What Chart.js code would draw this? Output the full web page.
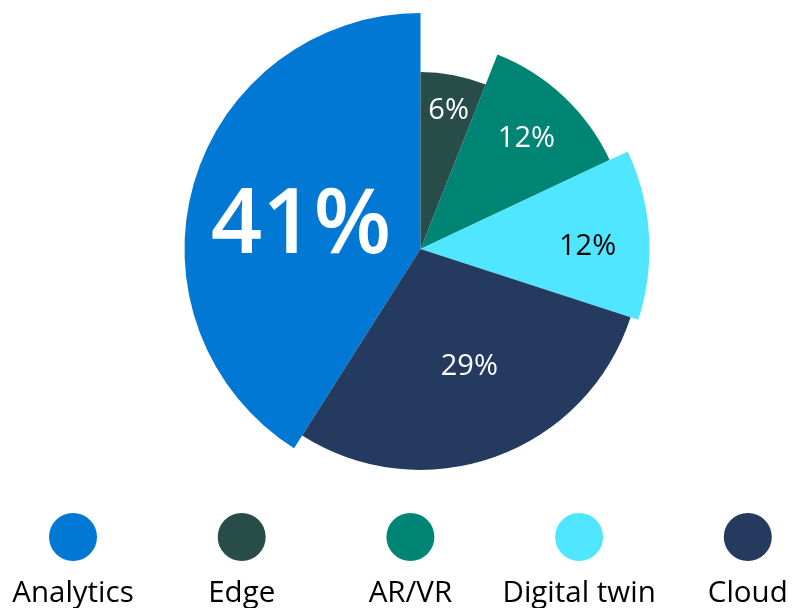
<!DOCTYPE html>
<html>
<head>
<meta charset="utf-8">
<style>
  html, body { margin: 0; padding: 0; background: #fff; }
  #wrap { width: 802px; height: 608px; position: relative; }
</style>
<script src="https://cdn.jsdelivr.net/npm/chart.js@4/dist/chart.umd.min.js"></script>
</head>
<body>
<div id="wrap"><canvas id="pieChart" width="802" height="608"></canvas></div>
<script>
// --- Data ---
const categories = ["Analytics", "Edge", "AR/VR", "Digital twin", "Cloud"];
const shares = [41, 6, 12, 12, 29];
const valueLabels = ["41%", "6%", "12%", "12%", "29%"];

// --- Style ---
const sliceColors = ["#0078d4", "#284c48", "#008575", "#50e6ff", "#243a5e"];
const labelColors = ["#ffffff", "#ffffff", "#ffffff", "#000000", "#ffffff"];
const labelSizes = [90, 29, 29, 29, 29];
const labelWeights = ["600", "400", "400", "400", "400"];
const radiusScale = [1.0, 0.75, 0.886, 0.97, 0.936]; // outer radius of each slice vs. the largest
const labelRadius = [0.52, 0.81, 0.74, 0.73, 0.57];  // label distance as fraction of slice radius
const labelTurn = [-3, 0.5, 0, 2, -3];               // small nudge of label angle, degrees

// stretch each slice to its own radius after chart.js lays out the arcs
const sliceRadiusPlugin = {
    id: "sliceRadius",
    afterDatasetUpdate(chart, args) {
        const full = Math.max(...args.meta.data.map(a => a.outerRadius));
        args.meta.data.forEach((arc, i) => {
            arc.outerRadius = full * radiusScale[i];
        });
    }
};

const sliceLabelPlugin = {
    id: "sliceLabels",
    afterDatasetsDraw(chart) {
        const ctx = chart.ctx;
        const meta = chart.getDatasetMeta(0);
        ctx.save();
        ctx.textAlign = "center";
        ctx.textBaseline = "alphabetic";
        meta.data.forEach((arc, i) => {
            const mid = (arc.startAngle + arc.endAngle) / 2 + labelTurn[i] * Math.PI / 180;
            const r = arc.outerRadius * labelRadius[i];
            ctx.font = labelWeights[i] + " " + labelSizes[i] + "px 'Open Sans'";
            ctx.fillStyle = labelColors[i];
            // centre the cap height on the label point
            const cap = labelSizes[i] * 0.714;
            ctx.fillText(valueLabels[i], arc.x + Math.cos(mid) * r, arc.y + Math.sin(mid) * r + cap / 2);
        });
        ctx.restore();
    }
};

const bottomLegendPlugin = {
    id: "bottomLegend",
    afterDraw(chart) {
        const ctx = chart.ctx;
        const step = 168.7;
        const x0 = 73;
        ctx.save();
        categories.forEach((name, i) => {
            const cx = x0 + step * i;
            ctx.beginPath();
            ctx.arc(cx, 537, 24, 0, Math.PI * 2);
            ctx.fillStyle = sliceColors[i];
            ctx.fill();
            ctx.font = "29.5px 'Open Sans'";
            ctx.fillStyle = "#000";
            ctx.textAlign = "center";
            ctx.textBaseline = "alphabetic";
            ctx.fillText(name, cx, 602);
        });
        ctx.restore();
    }
};

new Chart(document.getElementById("pieChart"), {
    type: "pie",
    data: {
        labels: categories,
        datasets: [{
            data: shares,
            backgroundColor: sliceColors,
            borderWidth: 0,
            hoverOffset: 0
        }]
    },
    options: {
        responsive: false,
        animation: false,
        rotation: -shares[0] * 3.6,
        layout: { padding: { left: 184.5, top: 13, right: 145.5, bottom: 123 } },
        plugins: {
            legend: { display: false },
            tooltip: { enabled: false }
        },
        events: []
    },
    plugins: [sliceRadiusPlugin, sliceLabelPlugin, bottomLegendPlugin]
});
</script>
</body>
</html>
